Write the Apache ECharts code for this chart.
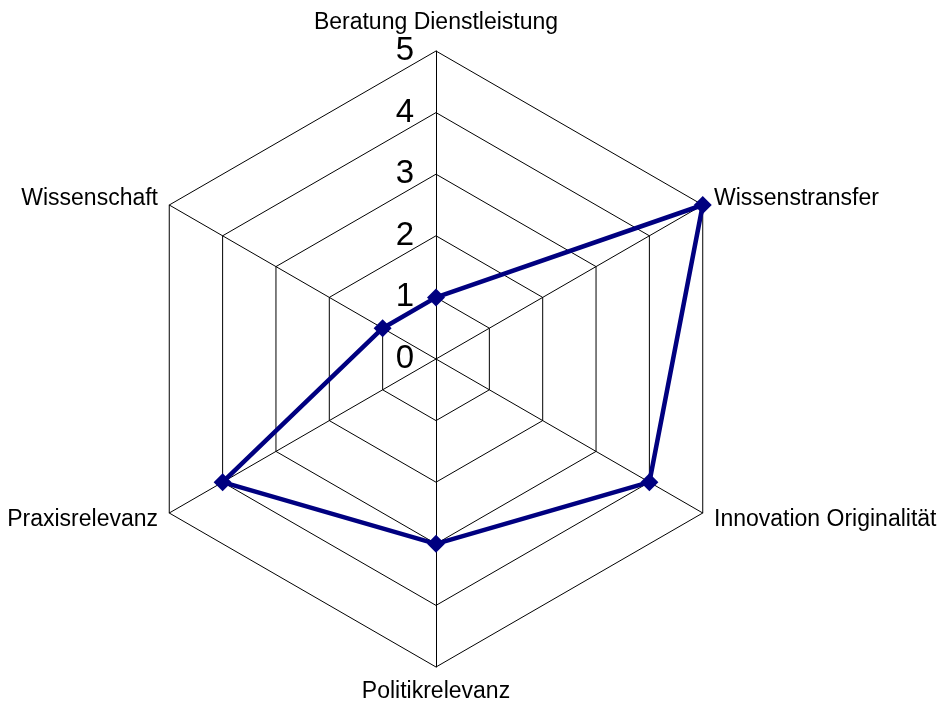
<!DOCTYPE html>
<html>
<head>
<meta charset="utf-8">
<script src="https://cdn.jsdelivr.net/npm/echarts@6/dist/echarts.min.js"></script>
<style>
html,body{margin:0;padding:0;background:#fff;}
#chart{width:939px;height:709px;}
</style>
</head>
<body>
<div id="chart"></div>
<script>
// Indicators listed in ECharts (counter-clockwise) order starting at the top
var categories = ['Beratung Dienstleistung', 'Wissenschaft', 'Praxisrelevanz', 'Politikrelevanz', 'Innovation Originalität', 'Wissenstransfer'];
var values = [1, 1, 4, 3, 4, 5];
var maxValue = 5;

var chart = echarts.init(document.getElementById('chart'));
var indicator = categories.map(function (name, i) {
  var ind = { name: name, min: 0, max: maxValue };
  ind.axisLabel = { show: i === 0 };
  return ind;
});
chart.setOption({
  animation: false,
  backgroundColor: '#fff',
  radar: {
    center: [436, 359],
    radius: 308,
    startAngle: 90,
    shape: 'polygon',
    splitNumber: 5,
    indicator: indicator,
    axisName: {
      color: '#000',
      fontSize: 23,
      fontFamily: 'Liberation Sans, Arial, sans-serif'
    },
    nameGap: 13,
    axisLine: { lineStyle: { color: '#000', width: 1 } },
    splitLine: { lineStyle: { color: '#000', width: 1 } },
    splitArea: { show: false },
    axisTick: { show: false },
    axisLabel: {
      color: '#000',
      fontSize: 33,
      fontFamily: 'Liberation Sans, Arial, sans-serif',
      margin: 22,
      showMinLabel: true,
      showMaxLabel: true
    }
  },
  series: [{
    type: 'radar',
    symbol: 'diamond',
    symbolSize: 18,
    lineStyle: { color: '#000080', width: 4.5 },
    itemStyle: { color: '#000080' },
    data: [{ value: values }]
  }]
});
</script>
</body>
</html>
